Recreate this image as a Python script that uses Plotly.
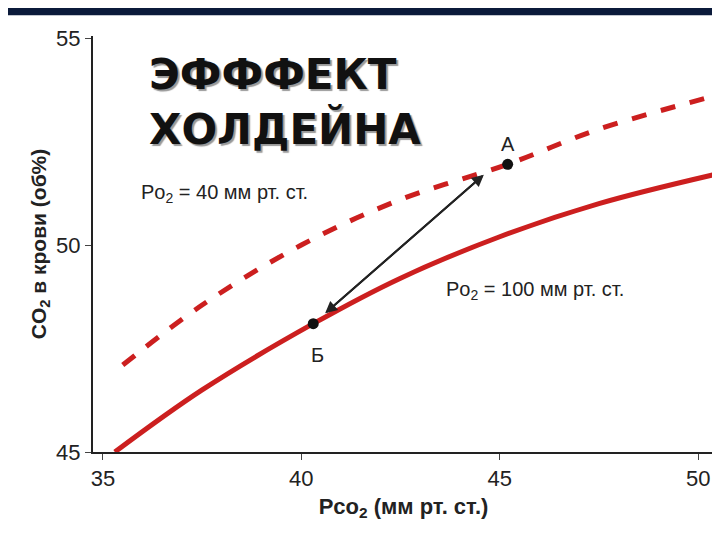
import plotly.graph_objects as go

dash_x = [35.5, 37.5, 40.0, 42.5, 45.2, 47.5, 50.4]
dash_y = [47.1, 48.55, 50.0, 51.1, 51.95, 52.8, 53.6]
sol_x = [35.3, 37.5, 40.3, 42.5, 45.0, 47.5, 50.4]
sol_y = [45.0, 46.5, 48.1, 49.2, 50.2, 51.0, 51.7]
pts_x = [45.2, 40.3]
pts_y = [51.95, 48.1]
pts_lbl = ["А", "Б"]
arr_x = [44.6, 40.6]
arr_y = [51.7, 48.35]

red = "#cc1f1f"
fig = go.Figure()
fig.add_trace(go.Scatter(x=dash_x, y=dash_y, mode="lines", line=dict(color=red, width=5, dash="dash", shape="spline")))
fig.add_trace(go.Scatter(x=sol_x, y=sol_y, mode="lines", line=dict(color=red, width=5, shape="spline")))
fig.add_trace(go.Scatter(x=pts_x, y=pts_y, mode="markers", marker=dict(color="#111", size=11)))

ann = [
    dict(x=arr_x[0], y=arr_y[0], ax=arr_x[1], ay=arr_y[1], xref="x", yref="y", axref="x", ayref="y",
         showarrow=True, arrowhead=2, arrowsize=1.2, arrowwidth=2, arrowcolor="#222", text=""),
    dict(x=arr_x[1], y=arr_y[1], ax=arr_x[0], ay=arr_y[0], xref="x", yref="y", axref="x", ayref="y",
         showarrow=True, arrowhead=2, arrowsize=1.2, arrowwidth=2, arrowcolor="#222", text=""),
    dict(x=45.2, y=52.45, text=pts_lbl[0], showarrow=False, font=dict(size=20, color="#222")),
    dict(x=40.4, y=47.35, text=pts_lbl[1], showarrow=False, font=dict(size=20, color="#222")),
    dict(x=35.9, y=51.25, xanchor="left", text="Po<sub>2</sub> = 40 мм рт. ст.", showarrow=False, font=dict(size=20, color="#222")),
    dict(x=43.6, y=48.9, xanchor="left", text="Po<sub>2</sub> = 100 мм рт. ст.", showarrow=False, font=dict(size=20, color="#222")),
    dict(x=36.1, y=54.75, xanchor="left", yanchor="top", align="left", text="<b>ЭФФФЕКТ<br>ХОЛДЕЙНА</b>", showarrow=False,
         font=dict(size=42, color="#111", family="DejaVu Sans", shadow="2px 2px 1px #999")),
]

fig.update_layout(
    width=720, height=540, showlegend=False, plot_bgcolor="white", paper_bgcolor="white",
    margin=dict(l=85, r=14, t=28, b=96), annotations=ann,
    font=dict(family="Liberation Sans", color="#222"),
    shapes=[dict(type="rect", xref="paper", yref="paper", x0=-0.2, x1=1.1, y0=1.05, y1=1.2, fillcolor="#0b1a3a", line_width=0)],
    xaxis=dict(range=[34.75, 50.4], tickvals=[35, 40, 45, 50], showgrid=False, zeroline=False, showline=True,
               linecolor="#222", linewidth=2, ticks="outside", ticklen=6, tickfont=dict(size=22),
               title=dict(text="<b>Pco<sub>2</sub> (мм рт. ст.)</b>", font=dict(size=22), standoff=8)),
    yaxis=dict(range=[45, 55.05], tickvals=[45, 50, 55], showgrid=False, zeroline=False, showline=True,
               linecolor="#222", linewidth=2, ticks="outside", ticklen=6, tickfont=dict(size=22),
               title=dict(text="<b>CO<sub>2</sub> в крови (об%)</b>", font=dict(size=21), standoff=4)),
)
fig.write_html("out.html")
